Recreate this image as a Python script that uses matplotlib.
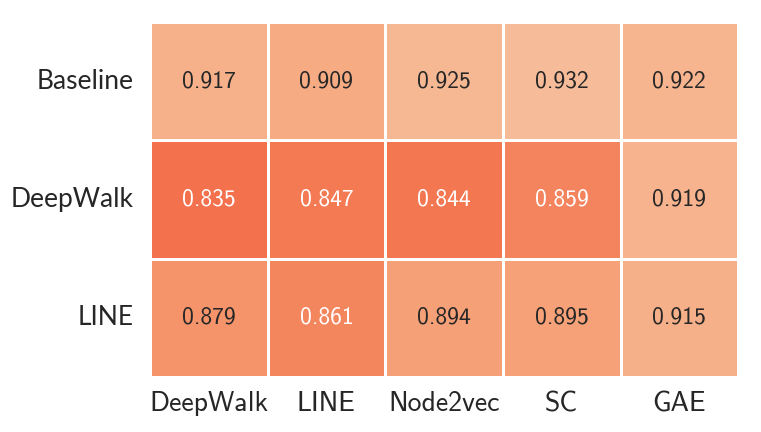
import numpy as np
import matplotlib
matplotlib.use("Agg")
import matplotlib.pyplot as plt
import seaborn as sns

# rows = embedding used, columns = method
row_labels = ["Baseline", "DeepWalk", "LINE"]
col_labels = ["DeepWalk", "LINE", "Node2vec", "SC", "GAE"]
baseline = [0.917, 0.909, 0.925, 0.932, 0.922]
deepwalk = [0.835, 0.847, 0.844, 0.859, 0.919]
line = [0.879, 0.861, 0.894, 0.895, 0.915]

scores = np.array([baseline, deepwalk, line])

sns.set_theme(style="white")

fig = plt.figure(figsize=(7.61, 4.32), dpi=100)
ax = fig.add_axes([0.197, 0.127, 0.773, 0.822])
sns.heatmap(scores, ax=ax, cmap="rocket", vmin=0.45, vmax=1.0,
            annot=True, fmt=".3f", cbar=False, linewidths=2, linecolor="white",
            annot_kws={"fontsize": 17, "family": "cmss10"},
            xticklabels=col_labels, yticklabels=row_labels)

ax.tick_params(length=0)
ax.tick_params(axis="x", pad=10)
ax.tick_params(axis="y", pad=12)
ax.set_xticklabels(col_labels, fontfamily="cmss10", fontsize=20)
ax.set_yticklabels(row_labels, fontfamily="Lato", fontsize=19, rotation=0)

fig.savefig("out.png", dpi=100)
